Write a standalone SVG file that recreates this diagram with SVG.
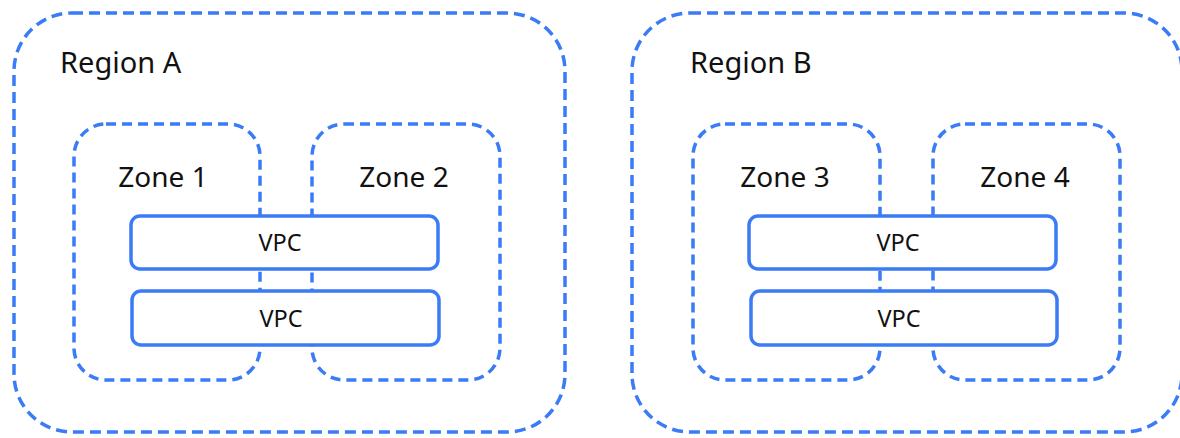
<svg xmlns="http://www.w3.org/2000/svg" width="1180" height="438" viewBox="0 0 1180 438">
<style>
.region{fill:none;stroke:#3B7BF6;stroke-width:3.5;stroke-dasharray:11 6}
.zone{fill:none;stroke:#3B7BF6;stroke-width:3.5;stroke-dasharray:10 6}
.vpc{fill:#fff;stroke:#3B7BF6;stroke-width:3.5}
text{font-family:"Noto Sans","DejaVu Sans",sans-serif;fill:#111}
.rl{font-size:29px}
.zl{font-size:28px;text-anchor:middle}
.vl{font-size:23.5px;text-anchor:middle}
</style>
<rect width="1180" height="438" fill="#fff"/>
<g id="regionA"><rect class="region" x="14" y="13" width="551" height="419" rx="58"/><text class="rl" x="60" y="73">Region A</text></g>
<g id="regionB"><rect class="region" x="632" y="13" width="550" height="419" rx="58"/><text class="rl" x="690" y="73">Region B</text></g>
<g id="zone1"><rect class="zone" x="74" y="124" width="186" height="256" rx="32"/><text class="zl" x="163" y="187">Zone 1</text></g>
<g id="zone2"><rect class="zone" x="312" y="124" width="188" height="256" rx="32"/><text class="zl" x="404" y="187">Zone 2</text></g>
<g id="zone3"><rect class="zone" x="693" y="124" width="187" height="256" rx="32"/><text class="zl" x="785" y="187">Zone 3</text></g>
<g id="zone4"><rect class="zone" x="933" y="124" width="187" height="256" rx="32"/><text class="zl" x="1025" y="187">Zone 4</text></g>
<g id="vpc1"><rect class="vpc" x="131" y="216" width="307" height="53" rx="9"/><text class="vl" x="280" y="251">VPC</text></g>
<g id="vpc2"><rect class="vpc" x="132" y="291" width="307" height="54" rx="9"/><text class="vl" x="281" y="327">VPC</text></g>
<g id="vpc3"><rect class="vpc" x="749" y="216" width="307" height="53" rx="9"/><text class="vl" x="898" y="251">VPC</text></g>
<g id="vpc4"><rect class="vpc" x="751" y="291" width="306" height="54" rx="9"/><text class="vl" x="899" y="327">VPC</text></g>
<g id="connectors"></g>
</svg>
